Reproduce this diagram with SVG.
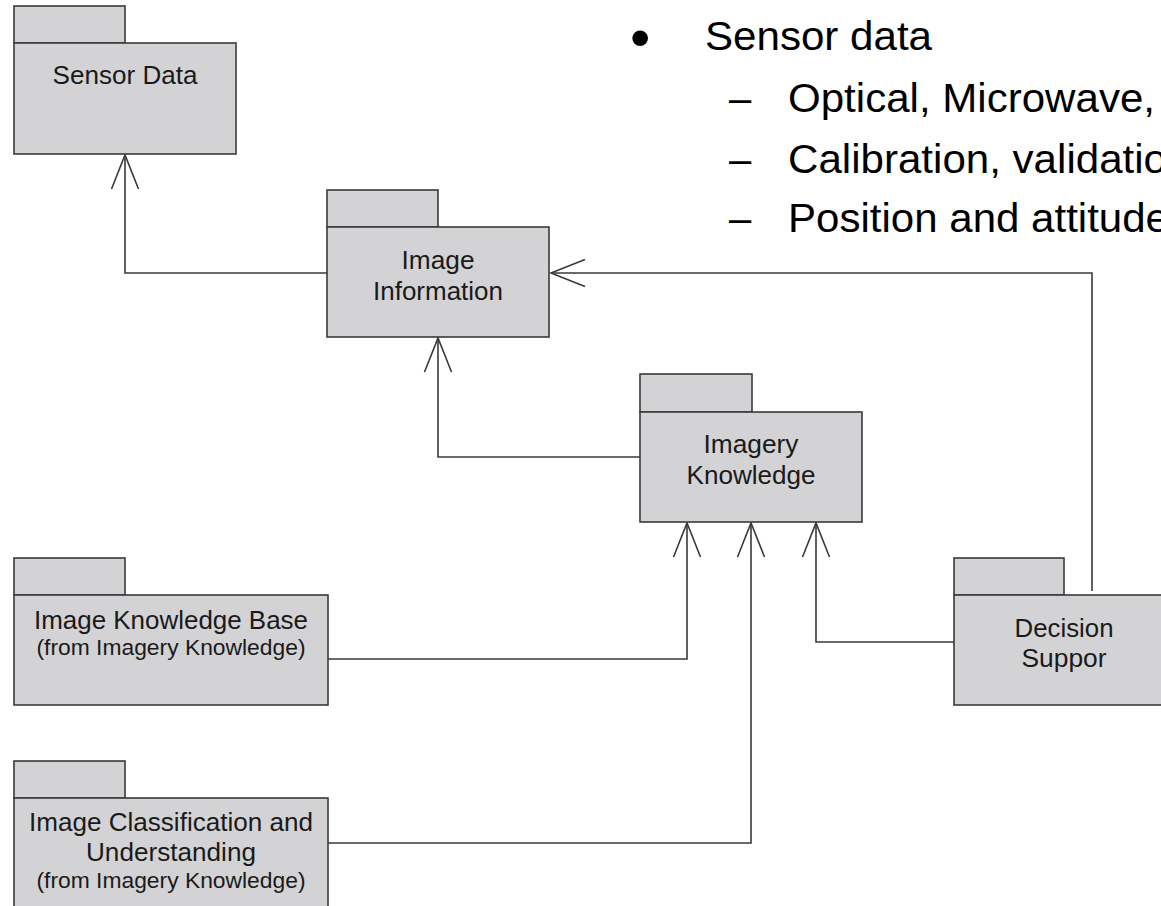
<svg xmlns="http://www.w3.org/2000/svg" width="1161" height="906" viewBox="0 0 1161 906">
  <style>
    .pk { fill: #d3d3d5; stroke: #3a3a3a; stroke-width: 1.6; }
    .t { font-family: "Liberation Sans", Arial, sans-serif; font-size: 25px; fill: #1a1a1a; text-anchor: middle; }
    .s { font-family: "Liberation Sans", Arial, sans-serif; font-size: 22px; fill: #1a1a1a; text-anchor: middle; }
    .b { font-family: "Liberation Sans", Arial, sans-serif; font-size: 40px; fill: #000; }
    .c { fill: none; stroke: #3a3a3a; stroke-width: 1.6; }
  </style>
  <defs>
    <marker id="open" markerUnits="userSpaceOnUse" markerWidth="40" markerHeight="32" viewBox="-36 -16 38 32" refX="0" refY="0" orient="auto" overflow="visible">
      <path d="M-34,-13.5 L0,0 L-34,13.5" fill="none" stroke="#3a3a3a" stroke-width="1.6"/>
    </marker>
  </defs>
  <rect width="1161" height="906" fill="#ffffff"/>

  <g id="bullets">
    <text class="b" x="630" y="57" style="font-size:58px">•</text>
    <text class="b" x="705" y="50" textLength="227" lengthAdjust="spacingAndGlyphs">Sensor data</text>
    <text class="b" x="729" y="112">–</text>
    <text class="b" x="788" y="112" textLength="367" lengthAdjust="spacingAndGlyphs">Optical, Microwave,</text>
    <text class="b" x="729" y="173">–</text>
    <text class="b" x="788" y="173" textLength="379" lengthAdjust="spacingAndGlyphs">Calibration, validatio</text>
    <text class="b" x="729" y="232">–</text>
    <text class="b" x="788" y="232" textLength="381" lengthAdjust="spacingAndGlyphs">Position and attitude</text>
  </g>

  <g id="connectors">
    <path class="c" d="M327,273 H125 V155" marker-end="url(#open)"/>
    <path class="c" d="M1092,591 V273 H551" marker-end="url(#open)"/>
    <path class="c" d="M640,457 H438 V338" marker-end="url(#open)"/>
    <path class="c" d="M328,659 H687 V523" marker-end="url(#open)"/>
    <path class="c" d="M328,843 H751 V523" marker-end="url(#open)"/>
    <path class="c" d="M954,642 H816 V523" marker-end="url(#open)"/>
  </g>

  <g id="sensor-data">
    <rect class="pk" x="14" y="6" width="111" height="37"/>
    <rect class="pk" x="14" y="43" width="222" height="111"/>
    <text class="t" x="125" y="84" textLength="145" lengthAdjust="spacingAndGlyphs">Sensor Data</text>
  </g>

  <g id="image-information">
    <rect class="pk" x="327" y="190" width="111" height="37"/>
    <rect class="pk" x="327" y="227" width="222" height="110"/>
    <text class="t" x="438" y="269" textLength="73" lengthAdjust="spacingAndGlyphs">Image</text>
    <text class="t" x="438" y="300" textLength="130" lengthAdjust="spacingAndGlyphs">Information</text>
  </g>

  <g id="imagery-knowledge">
    <rect class="pk" x="640" y="374" width="112" height="38"/>
    <rect class="pk" x="640" y="412" width="222" height="110"/>
    <text class="t" x="751" y="453" textLength="95" lengthAdjust="spacingAndGlyphs">Imagery</text>
    <text class="t" x="751" y="484" textLength="129" lengthAdjust="spacingAndGlyphs">Knowledge</text>
  </g>

  <g id="image-knowledge-base">
    <rect class="pk" x="14" y="558" width="111" height="37"/>
    <rect class="pk" x="14" y="595" width="314" height="110"/>
    <text class="t" x="171" y="629" textLength="274" lengthAdjust="spacingAndGlyphs">Image Knowledge Base</text>
    <text class="s" x="171" y="655" textLength="269" lengthAdjust="spacingAndGlyphs">(from Imagery Knowledge)</text>
  </g>

  <g id="image-classification">
    <rect class="pk" x="14" y="761" width="111" height="37"/>
    <rect class="pk" x="14" y="798" width="314" height="120"/>
    <text class="t" x="171" y="831" textLength="284" lengthAdjust="spacingAndGlyphs">Image Classification and</text>
    <text class="t" x="171" y="861" textLength="170" lengthAdjust="spacingAndGlyphs">Understanding</text>
    <text class="s" x="171" y="888" textLength="269" lengthAdjust="spacingAndGlyphs">(from Imagery Knowledge)</text>
  </g>

  <g id="decision-support">
    <rect class="pk" x="954" y="558" width="110" height="37"/>
    <rect class="pk" x="954" y="595" width="222" height="110"/>
    <text class="t" x="1064" y="637" textLength="99" lengthAdjust="spacingAndGlyphs">Decision</text>
    <text class="t" x="1064" y="667" textLength="85" lengthAdjust="spacingAndGlyphs">Suppor</text>
  </g>
</svg>
